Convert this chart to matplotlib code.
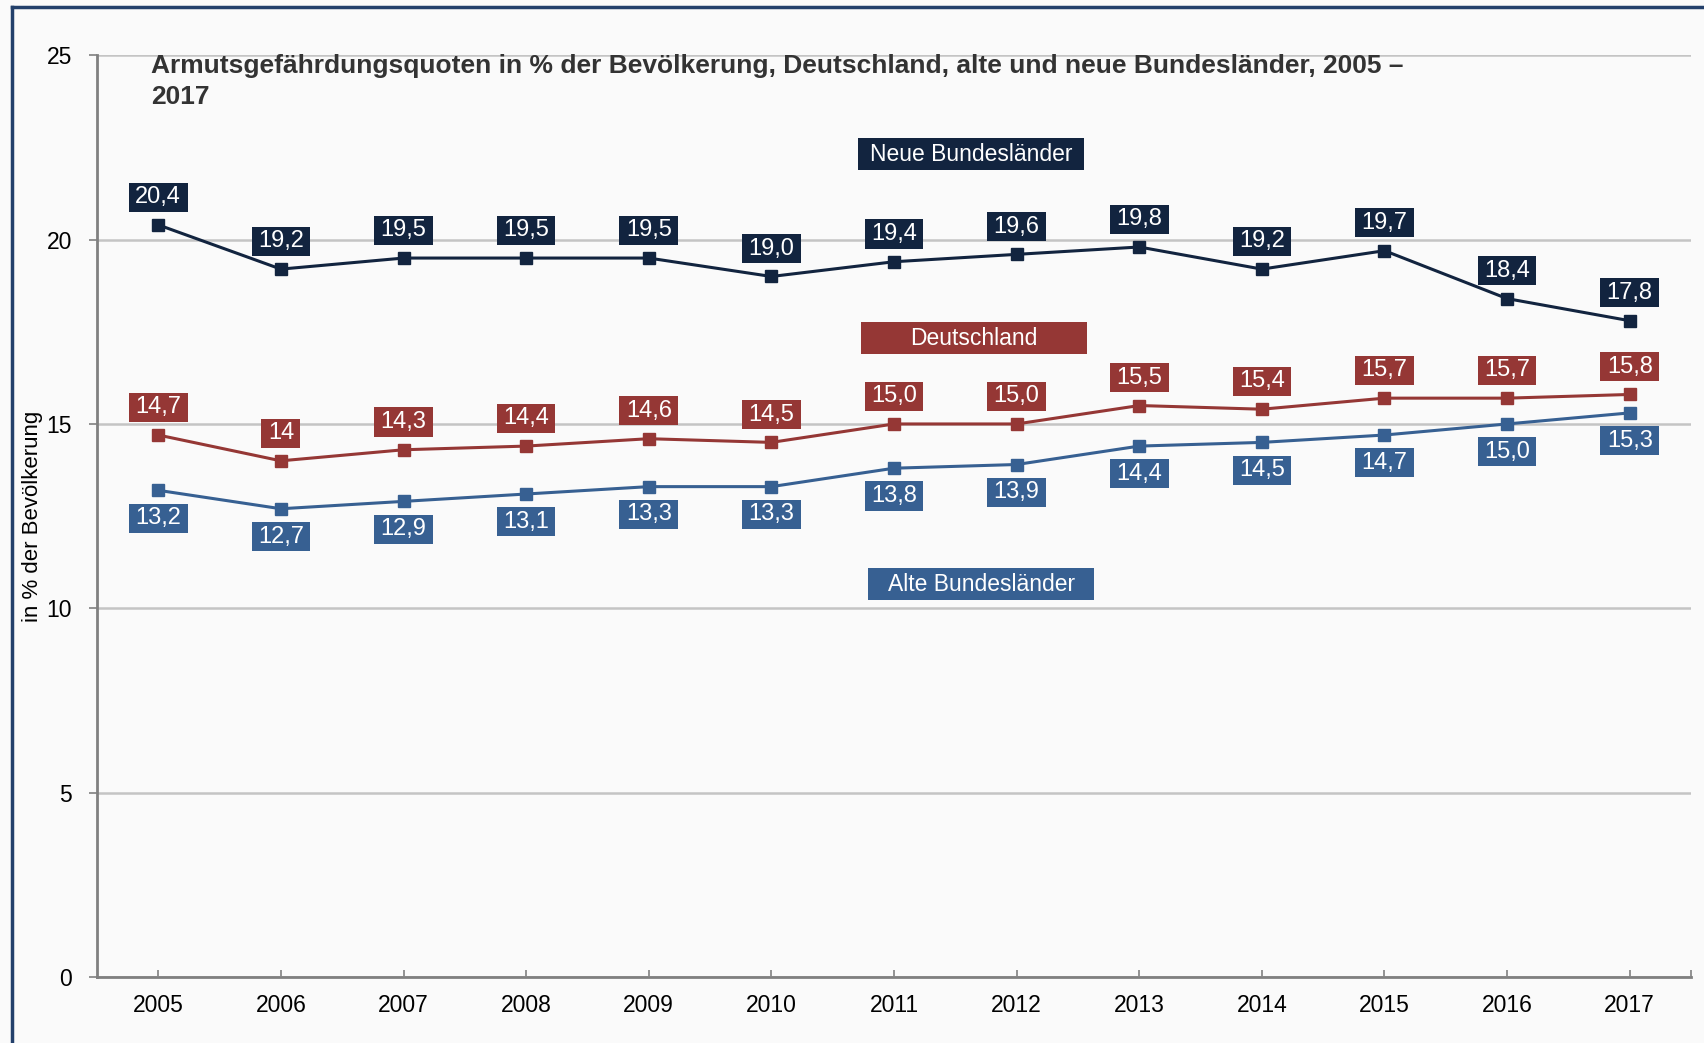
import matplotlib
matplotlib.use("Agg")
import matplotlib.pyplot as plt
from matplotlib.patches import Rectangle
from matplotlib.lines import Line2D
from matplotlib.path import Path
import numpy as np

plt.rcParams['font.family'] = ['Liberation Sans', 'DejaVu Sans']

years = ['2005', '2006', '2007', '2008', '2009', '2010', '2011',
         '2012', '2013', '2014', '2015', '2016', '2017']
neue = [20.4, 19.2, 19.5, 19.5, 19.5, 19.0, 19.4, 19.6, 19.8, 19.2, 19.7, 18.4, 17.8]
deutschland = [14.7, 14.0, 14.3, 14.4, 14.6, 14.5, 15.0, 15.0, 15.5, 15.4, 15.7, 15.7, 15.8]
alte = [13.2, 12.7, 12.9, 13.1, 13.3, 13.3, 13.8, 13.9, 14.4, 14.5, 14.7, 15.0, 15.3]
deutschland_labels = ['14,7', '14', '14,3', '14,4', '14,6', '14,5', '15,0',
                      '15,0', '15,5', '15,4', '15,7', '15,7', '15,8']

c_neue = '#12243f'
c_de = '#953735'
c_alte = '#376092'
bg = '#fafafa'


def label_box(x0, y0, width, height, mutation_size):
    # wider padding left/right than top/bottom
    px = 0.27 * mutation_size
    py = 0.15 * mutation_size
    x0, y0 = x0 - px, y0 - py
    x1, y1 = x0 + width + 2 * px, y0 + height + 2 * py
    return Path([(x0, y0), (x1, y0), (x1, y1), (x0, y1), (x0, y0)], closed=True)


fig = plt.figure(figsize=(17.04, 10.43), dpi=100, facecolor=bg)
ax = fig.add_axes([0.0569, 0.0633, 0.9355, 0.8837])
ax.set_facecolor(bg)

x = np.arange(len(years))
series = [
    (neue, [f'{v:.1f}'.replace('.', ',') for v in neue], c_neue, 1),
    (deutschland, deutschland_labels, c_de, 1),
    (alte, [f'{v:.1f}'.replace('.', ',') for v in alte], c_alte, -1),
]
for vals, labs, col, side in series:
    ax.plot(x, vals, color=col, lw=2.2, marker='s', ms=9, zorder=3)
    for xi, v, lab in zip(x, vals, labs):
        ax.annotate(lab, (xi, v), xytext=(0, 20 * side), textcoords='offset points',
                    ha='center', va='center', fontsize=17, color='white', zorder=4,
                    bbox=dict(boxstyle=label_box, fc=col, ec='none'))

# series name boxes
for xb, yb, name, col in [(5.71, 21.88, 'Neue Bundesländer', c_neue),
                          (5.73, 16.89, 'Deutschland', c_de),
                          (5.79, 10.22, 'Alte Bundesländer', c_alte)]:
    ax.add_patch(Rectangle((xb, yb), 1.84, 0.87, fc=col, ec='none', zorder=4))
    ax.text(xb + 0.92, yb + 0.435, name, ha='center', va='center',
            fontsize=16.5, color='white', zorder=5)

ax.set_xlim(-0.5, len(years) - 0.5)
ax.set_ylim(0, 25)
ax.set_yticks([0, 5, 10, 15, 20, 25])
ax.set_xticks(x)
ax.set_xticklabels(years)
ax.set_xticks([len(years) - 0.5], minor=True)
ax.yaxis.grid(True, color='#c4c4c4', lw=1.8)
ax.set_axisbelow(True)
for s in ['top', 'right']:
    ax.spines[s].set_visible(False)
for s in ['left', 'bottom']:
    ax.spines[s].set_color('#808080')
    ax.spines[s].set_linewidth(2)
ax.tick_params(axis='x', which='both', direction='in', length=5, width=1.2,
               color='#808080', labelsize=16.5, pad=12)
ax.tick_params(axis='y', direction='out', length=6, width=1.2,
               color='#808080', labelsize=16.5, pad=12)

fig.text(33 / 1704, 1 - 516 / 1043, 'in % der Bevölkerung', rotation=90,
         ha='center', va='center', fontsize=16)
fig.text(151 / 1704, 1 - 81.5 / 1043,
         'Armutsgefährdungsquoten in % der Bevölkerung, Deutschland, alte und neue Bundesländer, 2005 –\n2017',
         ha='left', va='center', fontsize=19, fontweight='bold', color='#333333',
         linespacing=1.4)

# frame lines on top and left
fig.add_artist(Line2D([12 / 1704, 12 / 1704], [0, 1 - 7 / 1043],
                      transform=fig.transFigure, color='#23406b', lw=2.5))
fig.add_artist(Line2D([12 / 1704, 1], [1 - 7 / 1043, 1 - 7 / 1043],
                      transform=fig.transFigure, color='#23406b', lw=2.5))

fig.savefig('out.png', dpi=100, facecolor=bg)
